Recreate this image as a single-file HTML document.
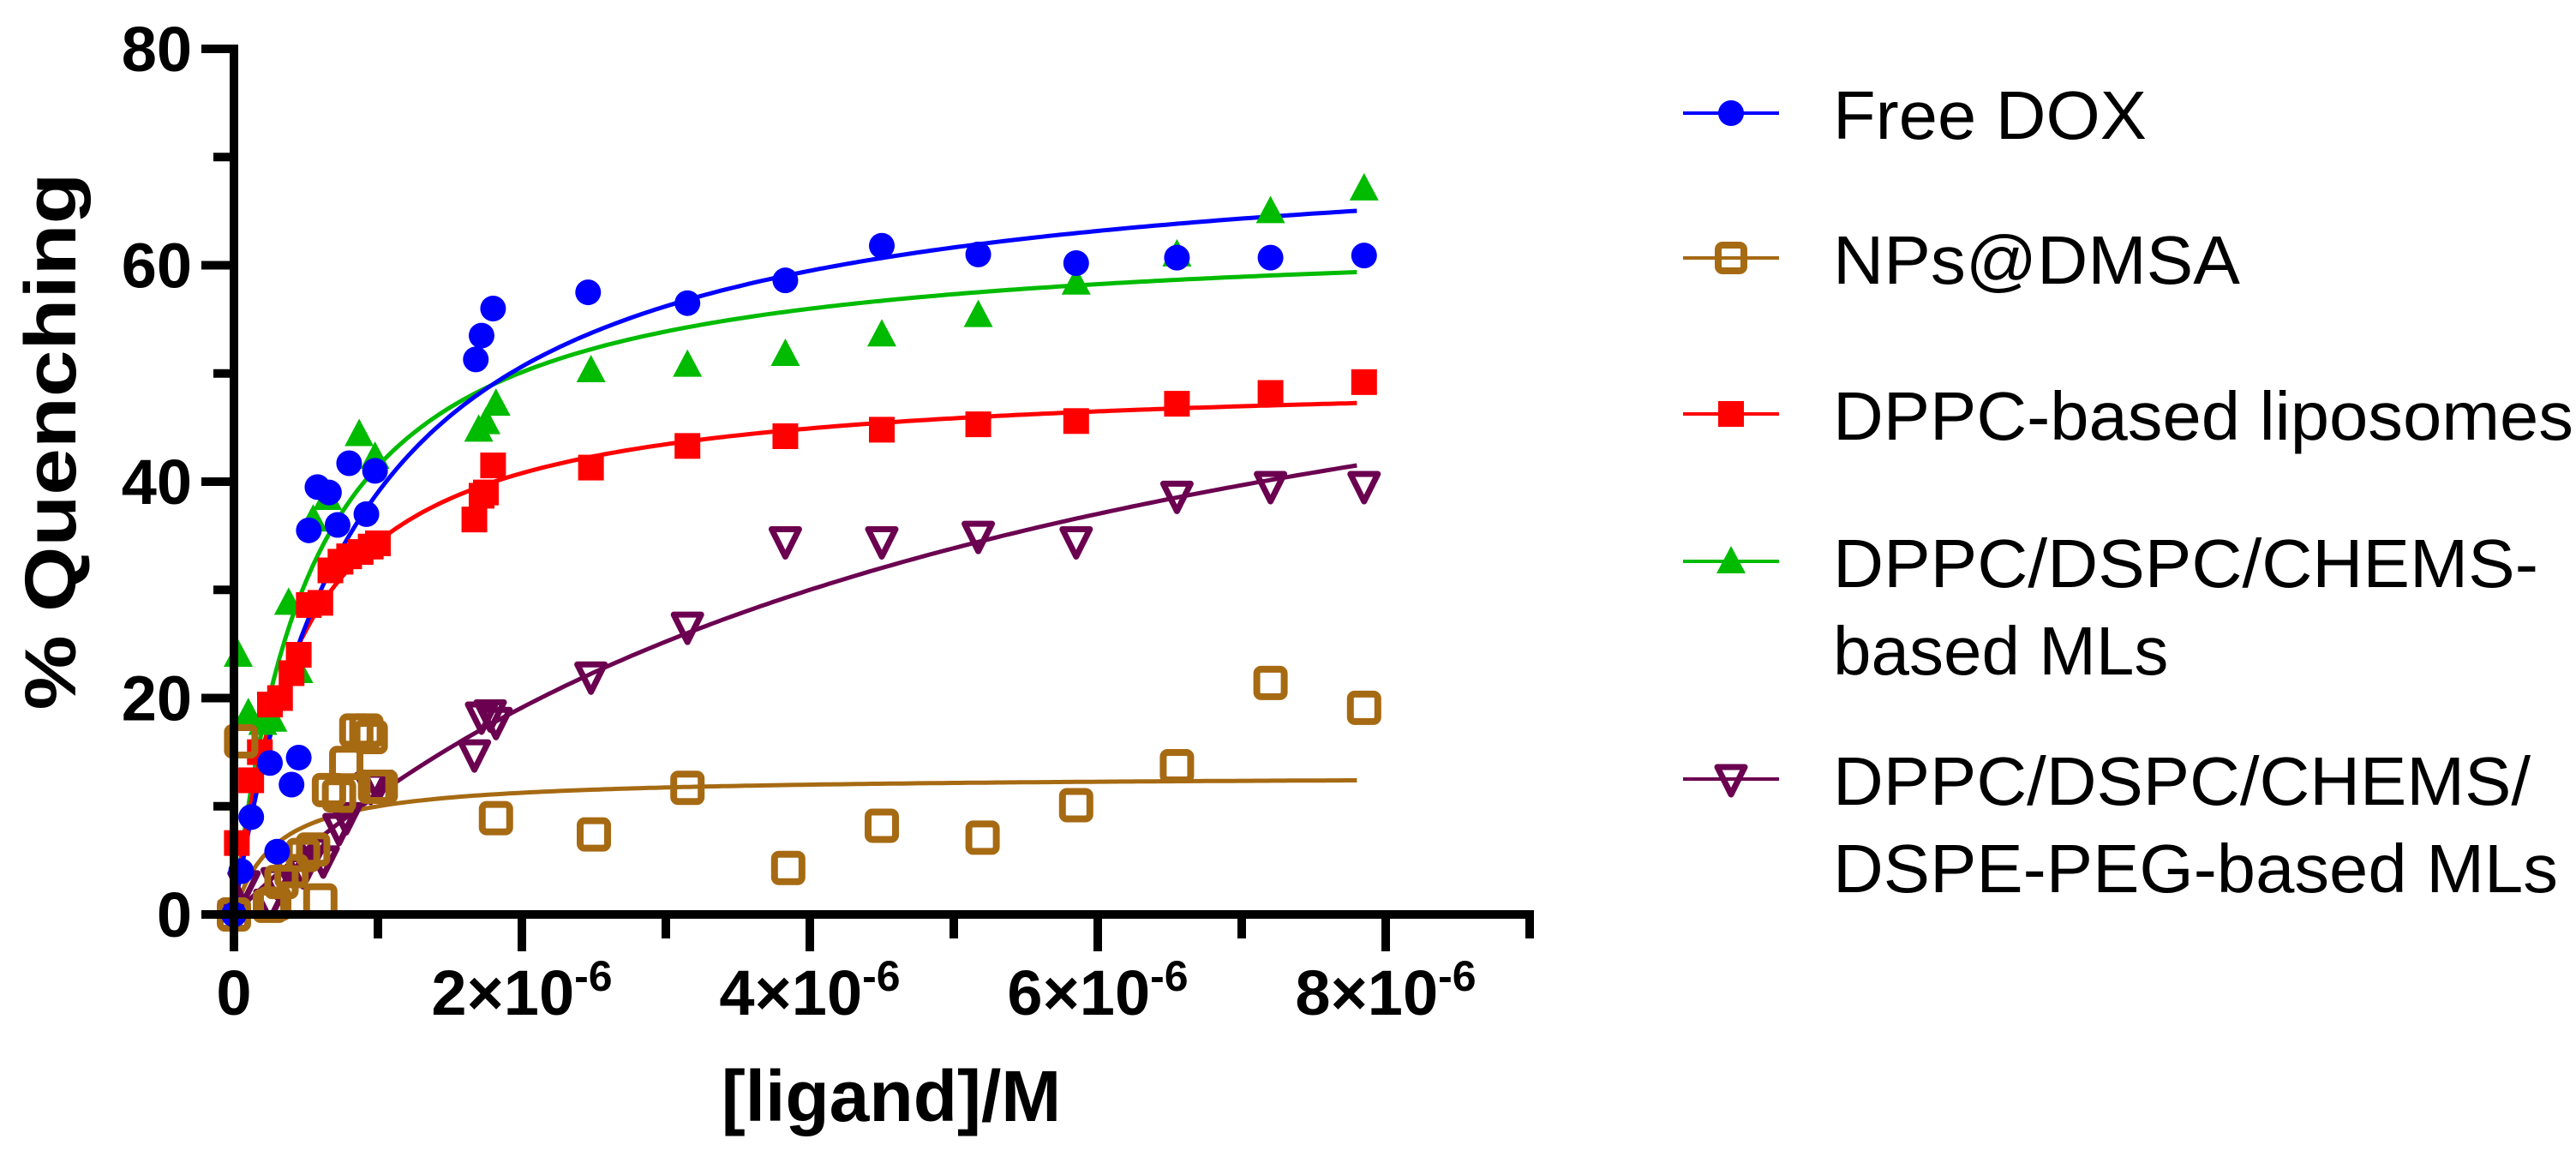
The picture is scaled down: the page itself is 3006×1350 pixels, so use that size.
<!DOCTYPE html>
<html><head><meta charset="utf-8"><style>
html,body{margin:0;padding:0;background:#fff;}
svg{display:block;font-family:"Liberation Sans",Arial,sans-serif;}
</style></head><body>
<svg id="chart" width="3006" height="1350" viewBox="0 0 3006 1350" xmlns="http://www.w3.org/2000/svg">
<g id="grid"></g>
<g id="series"></g>
<g id="axes"></g>
<g id="legend"></g>
</svg>
<script>
const NS="http://www.w3.org/2000/svg";
// x in units of 1e-6 M, y in % quenching
const xTicks=[0,2,4,6,8];
const xTickLabels=["0","2×10","4×10","6×10","8×10"];
const yTicks=[0,20,40,60,80];
const yTickLabels=["0","20","40","60","80"];
const seriesNames=["Free DOX","NPs@DMSA","DPPC-based liposomes","DPPC/DSPC/CHEMS-based MLs","DPPC/DSPC/CHEMS/DSPE-PEG-based MLs"];
const doxX=[0,0.05,0.12,0.25,0.3,0.4,0.45,0.52,0.58,0.66,0.72,0.8,0.92,0.98,1.68,1.72,1.8,2.46,3.15,3.83,4.5,5.17,5.85,6.55,7.2,7.85];
const doxY=[0,4,9,14,5.8,12,14.5,35.5,39.5,39,36,41.7,37,41,51.3,53.5,56,57.5,56.5,58.6,61.8,61,60.2,60.7,60.7,60.9];
const npX=[0,0.05,0.25,0.28,0.33,0.4,0.48,0.55,0.6,0.66,0.73,0.78,0.85,0.92,0.95,0.98,1.02,1.82,2.5,3.15,3.85,4.5,5.2,5.85,6.55,7.2,7.85];
const npY=[0,16,0.8,1,3,4,5.5,6,1.3,11.5,11,14,17,17,16.4,11.8,11.8,8.9,7.4,11.7,4.3,8.2,7.1,10.1,13.7,21.4,19.1];
const lipX=[0.02,0.12,0.18,0.25,0.32,0.4,0.45,0.52,0.6,0.67,0.74,0.8,0.88,0.95,1.0,1.67,1.72,1.75,1.8,2.48,3.15,3.83,4.5,5.17,5.85,6.55,7.2,7.85];
const lipY=[6.6,12.4,15,19.4,20,22.3,24,28.6,28.8,31.8,32.6,33.1,33.5,34,34.3,36.5,38.7,39,41.5,41.3,43.3,44.2,44.8,45.3,45.6,47.2,48.2,49.2];
const mlX=[0.03,0.1,0.2,0.27,0.38,0.45,0.55,0.65,0.87,0.98,1.7,1.75,1.82,2.48,3.15,3.83,4.5,5.17,5.85,6.55,7.2,7.85];
const mlY=[24,18.6,17.7,18,28.8,22.5,36.5,38.5,44.4,42.3,44.8,45.5,47.2,50.3,50.8,51.8,53.6,55.4,58.4,61,65,67.1];
const pegX=[0,0.07,0.25,0.3,0.38,0.48,0.55,0.62,0.73,0.78,0.95,1.0,1.67,1.72,1.78,1.82,2.48,3.15,3.83,4.5,5.17,5.85,6.55,7.2,7.85];
const pegY=[0,2.7,1,3,4.2,4,5.8,5,8,9,11.8,12,14.8,18.3,18.5,17.8,22,26.6,34.5,34.5,35,34.5,38.7,39.6,39.6];
// one-site binding fits: Bmax, Kd
const fitBmax=[72.1,12.85,50.0,63.4,69.6];
const fitKd=[0.848,0.285,0.452,0.53,5.28];

const X0=273,XS=168,Y0=1067,YS=12.625;
const sx=v=>X0+v*XS, sy=v=>Y0-v*YS;
function mk(tag,attrs,parent){const e=document.createElementNS(NS,tag);for(const k in attrs)e.setAttribute(k,attrs[k]);parent.appendChild(e);return e;}
const colors=["#0000ff","#a66a13","#ff0000","#00bb00","#6b0050"];
const shapes=["circle","opensquare","square","triangle","opentri"];
function marker(shape,c,cx,cy,parent,r){
  r=r||15;let e;
  if(shape==="circle"){e=mk("circle",{cx:cx,cy:cy,r:r,fill:c},parent);}
  else if(shape==="square"){e=mk("rect",{x:cx-r,y:cy-r,width:2*r,height:2*r,fill:c},parent);}
  else if(shape==="opensquare"){e=mk("rect",{x:cx-r-1,y:cy-r-1,width:2*r+2,height:2*r+2,rx:5,fill:"none",stroke:c,"stroke-width":8},parent);}
  else if(shape==="triangle"){e=mk("polygon",{points:`${cx},${cy-r-3} ${cx+r+2},${cy+r-1} ${cx-r-2},${cy+r-1}`,fill:c},parent);}
  else {e=mk("polygon",{points:`${cx-r-1},${cy-r+1} ${cx+r+1},${cy-r+1} ${cx},${cy+r+3}`,fill:"none",stroke:c,"stroke-width":7,"stroke-linejoin":"round"},parent);}
  return e;
}
const sg=document.getElementById("series");
const xsArr=[doxX,npX,lipX,mlX,pegX], ysArr=[doxY,npY,lipY,mlY,pegY];
const keys=["free-dox","nps-dmsa","dppc-liposomes","dppc-dspc-chems-mls","dppc-dspc-chems-dspe-peg-mls"];
const order=[3,4,2,1,0];
order.forEach(i=>{
  let d="";for(let k=0;k<=200;k++){const v=7.8*k/200;const q=fitBmax[i]*v/(fitKd[i]+v);d+=(k?"L":"M")+sx(v).toFixed(1)+","+sy(q).toFixed(1);}
  const p=mk("path",{d:d,fill:"none",stroke:colors[i],"stroke-width":5},sg);
  
  
});
order.forEach(i=>{
  const g=mk("g",{},sg);
  
  
  xsArr[i].forEach((v,j)=>{
    const m=marker(shapes[i],colors[i],sx(v),sy(ysArr[i][j]),g);
    
    
  });
});
const ax=document.getElementById("axes");
let l=mk("line",{x1:X0,y1:52,x2:X0,y2:Y0+5,stroke:"#000","stroke-width":10},ax);

l=mk("line",{x1:X0-5,y1:Y0,x2:sx(9)+5,y2:Y0,stroke:"#000","stroke-width":10},ax);

for(let v=0;v<=80;v+=10){
  const major=v%20===0;
  const t=mk("line",{x1:X0-(major?38:24),y1:sy(v),x2:X0,y2:sy(v),stroke:"#000","stroke-width":10},ax);
  
}
for(let v=0;v<=9;v+=1){
  const major=v%2===0;
  const t=mk("line",{x1:sx(v),y1:Y0,x2:sx(v),y2:Y0+(major?43:28),stroke:"#000","stroke-width":10},ax);
  
}
yTicks.forEach((v,i)=>{
  const t=mk("text",{x:224,y:sy(v)+26,"text-anchor":"end","font-size":74,"font-weight":"bold"},ax);
  t.textContent=yTickLabels[i];
  
});
xTicks.forEach((v,i)=>{
  const t=mk("text",{x:sx(v),y:1184,"text-anchor":"middle","font-size":74,"font-weight":"bold"},ax);
  t.textContent=xTickLabels[i];
  if(v!==0){const s=mk("tspan",{"font-size":50,dy:-28},t);s.textContent="-6";}
  
});
let tt=mk("text",{x:1040,y:1308,"text-anchor":"middle","font-size":84,"font-weight":"bold"},ax);
tt.textContent="[ligand]/M";
tt=mk("text",{x:0,y:0,"text-anchor":"middle","font-size":84,"font-weight":"bold",transform:"translate(88,515) rotate(-90)",textLength:627,lengthAdjust:"spacingAndGlyphs"},ax);
tt.textContent="% Quenching";
const lg=document.getElementById("legend");
const legY=[132,301,483,655,909];
const legLines=[["Free DOX"],["NPs@DMSA"],["DPPC-based liposomes"],["DPPC/DSPC/CHEMS-","based MLs"],["DPPC/DSPC/CHEMS/","DSPE-PEG-based MLs"]];
const legWidths=[[366],[475],[864],[823],[814,846]];
legY.forEach((y,i)=>{
  const g=mk("g",{},lg);
  
  
  mk("line",{x1:1964,y1:y,x2:2076,y2:y,stroke:colors[i],"stroke-width":4},g);
  marker(shapes[i],colors[i],2020,y,g,shapes[i]==="opensquare"?14:15);
  legLines[i].forEach((s,k)=>{
    const a={x:2139,y:y+30+k*102,"font-size":80};
    if(legWidths[i][k]){a.textLength=legWidths[i][k];a.lengthAdjust="spacingAndGlyphs";}
    const t=mk("text",a,g);
    t.textContent=s;
  });
});
</script>
</body></html>
